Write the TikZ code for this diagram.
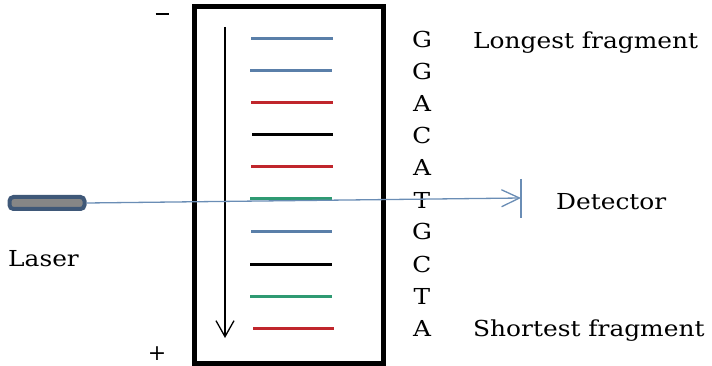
\documentclass[tikz,border=0pt]{standalone}
\usepackage{fontspec}
\setmainfont{DejaVu Serif}
\usepackage{tikz}
\usetikzlibrary{arrows.meta,positioning,calc}
\definecolor{bandblue}{HTML}{5A7FA9}
\definecolor{bandred}{HTML}{C0262C}
\definecolor{bandgreen}{HTML}{2E9A72}
\definecolor{beamblue}{HTML}{6A8DB5}
\definecolor{laserrim}{HTML}{3F5878}
\newcommand{\widetext}[1]{\scalebox{1.13}[1]{#1}}
\tikzstyle{band} = [line width=3pt]
\tikzstyle{base} = [font=\fontsize{22}{24}\selectfont, inner sep=0pt, anchor=base]
\tikzstyle{lbl} = [font=\fontsize{22}{24}\selectfont, inner sep=0pt, anchor=base west]
\tikzstyle{laserbox} = [rectangle, rounded corners=4pt, draw=laserrim, fill=gray!95, line width=4pt, minimum width=75pt, minimum height=12pt]
\tikzstyle{beam} = [beamblue, line width=1.3pt, -{Straight Barb[length=18pt,width=17pt,line width=1.3pt]}]

\begin{document}
\begin{tikzpicture}[x=1pt,y=-1pt]
	\useasboundingbox (0,0) rectangle (712,366);
	% gel
	\draw[line width=5pt] (194,7) rectangle (383,363);
	\node[inner sep=0pt](minus) at (162,14) {\rule{13pt}{1.2pt}};
	\node[base](plus) at (157,360) {+};
	\coordinate (runtop) at (225,27);
	\coordinate (runbot) at (225,338);
	\draw[line width=1.3pt, -{Straight Barb[length=16pt,width=18pt,line width=1.3pt]}] (runtop) -- (runbot);
	% fragments
	\draw[band,bandblue]  (251,39) -- (333,39);
	\draw[band,bandblue]  (250,71) -- (332,71);
	\draw[band,bandred]   (251,103) -- (333,103);
	\draw[band,black]     (252,135) -- (333,135);
	\draw[band,bandred]   (251,167) -- (333,167);
	\draw[band,bandgreen] (250,199) -- (332,199);
	\draw[band,bandblue]  (251,232) -- (332,232);
	\draw[band,black]     (250,264) -- (332,264);
	\draw[band,bandgreen] (250,296) -- (332,296);
	\draw[band,bandred]   (253,328) -- (334,328);
	% bases
	\node[base](b1)  at (422,48) {\widetext{G}};
	\node[base](b2)  at (422,80) {\widetext{G}};
	\node[base](b3)  at (422,112) {\widetext{A}};
	\node[base](b4)  at (422,144) {\widetext{C}};
	\node[base](b5)  at (422,176) {\widetext{A}};
	\node[base](b6)  at (422,208) {\widetext{T}};
	\node[base](b7)  at (422,240) {\widetext{G}};
	\node[base](b8)  at (422,272) {\widetext{C}};
	\node[base](b9)  at (422,304) {\widetext{T}};
	\node[base](b10) at (422,336) {\widetext{A}};
	\node[lbl](longest)  at (473,49) {\widetext{Longest fragment}};
	\node[lbl](shortest) at (473,336) {\widetext{Shortest fragment}};
	% laser and detector
	\node[laserbox](laser) at (47,203) {};
	\node[lbl](laserlbl) at (8,266) {\widetext{Laser}};
	\coordinate (det) at (521,198);
	\draw[beamblue, line width=1.5pt] ($(det)+(0,-19)$) -- ($(det)+(0,20)$);
	\node[lbl](detlbl) at (556,210) {\widetext{Detector}};
	\draw[beam] (laser.east) -- (det);
\end{tikzpicture}
\end{document}
